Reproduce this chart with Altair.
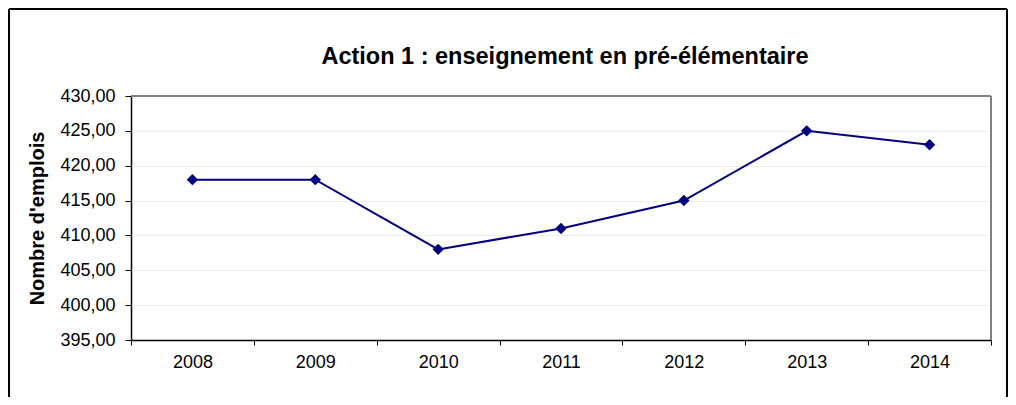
import altair as alt
import pandas as pd

years = ["2008", "2009", "2010", "2011", "2012", "2013", "2014"]
values = [418, 418, 408, 411, 415, 425, 423]
y_ticks = [395, 400, 405, 410, 415, 420, 425, 430]
title_text = "Action 1 : enseignement en pré-élémentaire"
y_title = "Nombre d'emplois"

df = pd.DataFrame({"year": years, "value": values})

FONT = "Liberation Sans"
W, H = 860, 244
PL, PT, PR, PB = 123, 88, 17, 57

x_enc = alt.X(
    "year:N",
    title=None,
    scale=alt.Scale(paddingInner=0, paddingOuter=0),
    axis=alt.Axis(
        labelAngle=0, tickBand="extent", tickSize=5, tickColor="black",
        domainColor="black", domainWidth=1.5, labelFont=FONT, labelFontSize=18,
        labelColor="black", labelPadding=8, grid=False, labelOverlap=False,
    ),
)
y_enc = alt.Y(
    "value:Q",
    title=y_title,
    scale=alt.Scale(domain=[395, 430], nice=False, zero=False),
    axis=alt.Axis(
        values=y_ticks, format=".2f", labelExpr="replace(datum.label, '.', ',')",
        tickSize=6, tickColor="black", domainColor="black", domainWidth=1.5,
        labelFont=FONT, labelFontSize=18, labelColor="black", labelPadding=10,
        labelOverlap=False, labelBound=False,
        titleFont=FONT, titleFontSize=20, titleFontWeight="bold", titleColor="black",
        titlePadding=12, gridColor="#eeeeee", gridWidth=1,
    ),
)

base = alt.Chart(df).encode(x=x_enc, y=y_enc)
line = base.mark_line(color="#000080", strokeWidth=2)
pts = base.mark_point(shape="diamond", filled=True, size=130, color="#000080", opacity=1)

title_df = pd.DataFrame({"t": [title_text]})
title = alt.Chart(title_df).mark_text(
    font=FONT, fontSize=23.5, fontWeight="bold", color="black", align="center", baseline="middle"
).encode(text="t:N", x=alt.value(W / 2 + 4), y=alt.value(-39))

border_df = pd.DataFrame({"a": [0]})
plot_top = alt.Chart(border_df).mark_rule(color="#808080", strokeWidth=2).encode(
    x=alt.value(0), x2=alt.value(W), y=alt.value(0)
)
plot_right = alt.Chart(border_df).mark_rule(color="#808080", strokeWidth=2).encode(
    x=alt.value(W), y=alt.value(0), y2=alt.value(H)
)
left_b = alt.Chart(border_df).mark_rule(color="black", strokeWidth=2).encode(
    x=alt.value(-PL + 1), y=alt.value(-PT + 1), y2=alt.value(H + PB + 10)
)
right_b = alt.Chart(border_df).mark_rule(color="black", strokeWidth=2).encode(
    x=alt.value(W + PR - 1), y=alt.value(-PT + 1), y2=alt.value(H + PB + 10)
)
top_b = alt.Chart(border_df).mark_rule(color="black", strokeWidth=2).encode(
    x=alt.value(-PL + 1), x2=alt.value(W + PR - 1), y=alt.value(-PT + 1)
)

chart = alt.layer(line, pts, plot_top, plot_right, title, left_b, right_b, top_b).properties(
    width=W, height=H,
    padding={"left": PL, "top": PT, "right": PR, "bottom": PB},
    autosize=alt.AutoSizeParams(type="none"),
).configure_view(stroke=None).configure(background="white")

chart.save("out.html", embed_options={"renderer": "svg", "actions": False})
